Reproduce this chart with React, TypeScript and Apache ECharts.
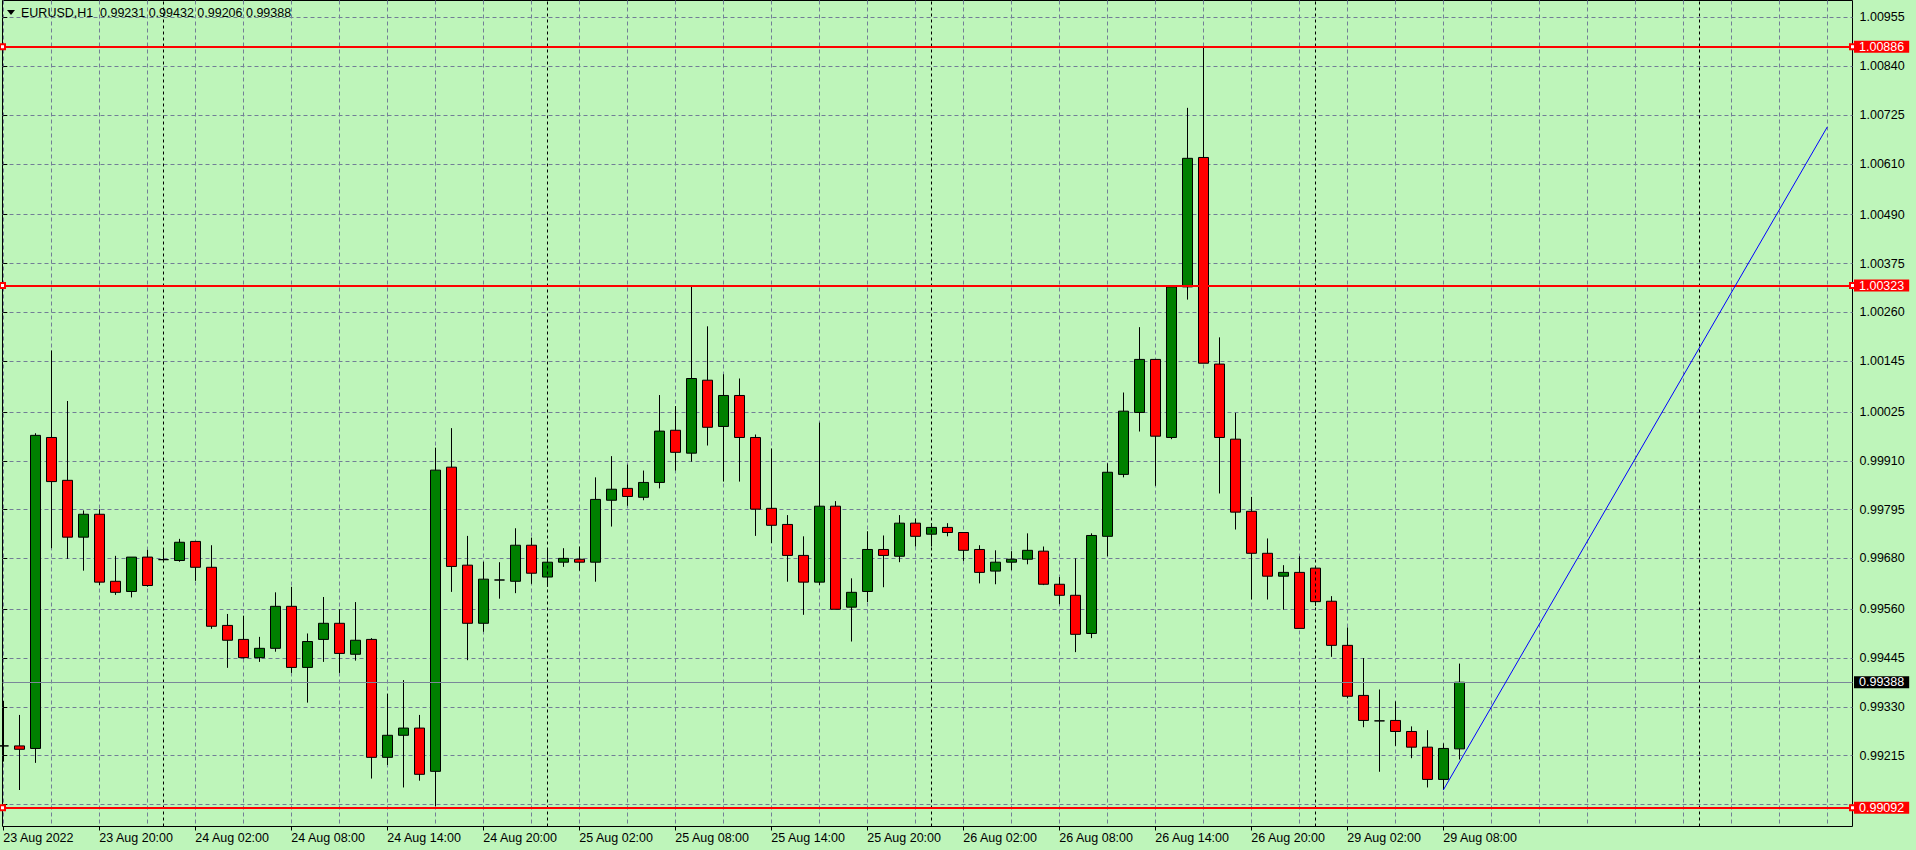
import React, { useEffect, useRef } from "react";
import * as echarts from "echarts";

// ---- data (EURUSD H1, bar index 0 = 23 Aug 2022 14:00) ----
const opens = [
  0.99238, 0.99238, 0.99232, 0.99965, 0.99864, 0.9973, 0.99784, 0.99626, 0.99602, 0.99683,
  0.99677, 0.99675, 0.9972, 0.99659, 0.99522, 0.99489, 0.99446, 0.99468, 0.99567, 0.99423,
  0.99489, 0.99527, 0.99454, 0.99489, 0.99211, 0.99263, 0.9928, 0.99178, 0.99895, 0.99664,
  0.99527, 0.99629, 0.99626, 0.99711, 0.99636, 0.99671, 0.99678, 0.99671, 0.99817, 0.99845,
  0.99824, 0.99859, 0.99982, 0.99928, 1.001, 0.99991, 1.00064, 0.99965, 0.99798, 0.9976,
  0.99687, 0.99624, 0.99803, 0.99565, 0.99602, 0.99701, 0.99685, 0.99763, 0.99737, 0.99753,
  0.99741, 0.99701, 0.9965, 0.99671, 0.99678, 0.99697, 0.99619, 0.99593, 0.99503, 0.99732,
  0.99878, 1.00024, 1.00149, 0.99965, 1.0032, 1.00625, 1.00138, 0.99961, 0.99791, 0.99692,
  0.99638, 0.99647, 0.99657, 0.99579, 0.99475, 0.99357, 0.99297, 0.99298, 0.99272, 0.99235,
  0.99159, 0.99231,
];
const highs = [
  0.99344, 0.99311, 0.99975, 1.0017, 1.00051, 0.99793, 0.99796, 0.99686, 0.99683, 0.997,
  0.99704, 0.99726, 0.9972, 0.99711, 0.99549, 0.99545, 0.99495, 0.996, 0.99613, 0.99503,
  0.99589, 0.9956, 0.99577, 0.99492, 0.99361, 0.99393, 0.99311, 0.99941, 0.99987, 0.99733,
  0.99672, 0.99671, 0.99751, 0.99729, 0.99704, 0.99704, 0.99708, 0.99871, 0.99921, 0.99901,
  0.99887, 1.00065, 1.00039, 1.00323, 1.00227, 1.00114, 1.00104, 0.99972, 0.99939, 0.99782,
  0.99732, 1.0, 0.99815, 0.99633, 0.99744, 0.99734, 0.99782, 0.99774, 0.99763, 0.99763,
  0.99741, 0.99711, 0.99699, 0.99697, 0.99739, 0.99708, 0.99636, 0.9968, 0.99739, 0.99904,
  1.00071, 1.00225, 1.00149, 1.0032, 1.00742, 1.00886, 1.00201, 1.00023, 0.99825, 0.99727,
  0.99664, 0.99685, 0.99657, 0.99591, 0.99517, 0.99445, 0.99371, 0.99343, 0.99284, 0.99275,
  0.99244, 0.99432,
];
const lows = [
  0.99201, 0.99134, 0.99198, 0.99704, 0.99679, 0.99651, 0.99617, 0.99594, 0.99588, 0.99613,
  0.99671, 0.99672, 0.99627, 0.99514, 0.99422, 0.99444, 0.99436, 0.9946, 0.9941, 0.9934,
  0.99436, 0.9941, 0.99439, 0.99161, 0.99193, 0.9914, 0.99156, 0.99096, 0.99601, 0.9944,
  0.99507, 0.99585, 0.99598, 0.9962, 0.99613, 0.9966, 0.99651, 0.99625, 0.99755, 0.99804,
  0.99817, 0.99845, 0.99887, 0.99908, 0.99946, 0.99861, 0.99861, 0.99733, 0.99716, 0.99625,
  0.99547, 0.99617, 0.9956, 0.99484, 0.99577, 0.99612, 0.99671, 0.99708, 0.99708, 0.99732,
  0.99674, 0.99621, 0.99619, 0.99652, 0.99666, 0.99617, 0.99572, 0.99459, 0.99492, 0.99685,
  0.99871, 0.99979, 0.99851, 0.99961, 1.0029, 1.0014, 0.99833, 0.99748, 0.99583, 0.99583,
  0.99559, 0.99515, 0.99568, 0.99448, 0.9935, 0.99282, 0.99177, 0.99238, 0.99209, 0.9914,
  0.99134, 0.99206,
];
const closes = [
  0.99238, 0.9923, 0.9997, 0.99861, 0.9973, 0.99784, 0.99624, 0.996, 0.99683, 0.99616,
  0.99677, 0.99718, 0.99659, 0.9952, 0.99487, 0.99446, 0.99468, 0.99567, 0.99423, 0.99484,
  0.99527, 0.99456, 0.99487, 0.99211, 0.99263, 0.9928, 0.99171, 0.99888, 0.99661, 0.99527,
  0.99631, 0.99629, 0.99711, 0.99645, 0.99671, 0.9968, 0.99671, 0.99819, 0.99843, 0.99826,
  0.99859, 0.9998, 0.9993, 1.00104, 0.99989, 1.00064, 0.99965, 0.99796, 0.99758, 0.99687,
  0.99624, 0.99803, 0.9956, 0.996, 0.99701, 0.99687, 0.99763, 0.99732, 0.99753, 0.99741,
  0.99699, 0.99647, 0.99671, 0.99678, 0.99699, 0.99619, 0.99593, 0.99501, 0.99734, 0.99883,
  1.00027, 1.00149, 0.99968, 1.0032, 1.00623, 1.0014, 0.99965, 0.99789, 0.99692, 0.99638,
  0.99647, 0.99515, 0.99578, 0.99475, 0.99355, 0.99298, 0.99297, 0.99272, 0.99235, 0.99159,
  0.99232, 0.99388,
];

const timeLabels = [
  "23 Aug 2022", "23 Aug 20:00", "24 Aug 02:00", "24 Aug 08:00", "24 Aug 14:00",
  "24 Aug 20:00", "25 Aug 02:00", "25 Aug 08:00", "25 Aug 14:00", "25 Aug 20:00",
  "26 Aug 02:00", "26 Aug 08:00", "26 Aug 14:00", "26 Aug 20:00", "29 Aug 02:00",
  "29 Aug 08:00",
];
const timeLabelBars = [0, 6, 12, 18, 24, 30, 36, 42, 48, 54, 60, 66, 72, 78, 84, 90];
const daySeparatorBars = [10, 34, 58, 82, 106];

const priceTicks = [
  1.00955, 1.0084, 1.00725, 1.0061, 1.0049, 1.00375, 1.0026, 1.00145, 1.00025,
  0.9991, 0.99795, 0.9968, 0.9956, 0.99445, 0.9933, 0.99215, 0.991,
];
const priceLabels = [
  1.00955, 1.0084, 1.00725, 1.0061, 1.0049, 1.00375, 1.0026, 1.00145, 1.00025,
  0.9991, 0.99795, 0.9968, 0.9956, 0.99445, 0.9933, 0.99215,
];
const levelLines = [1.00886, 1.00323, 0.99092];
const trendFrom = [90, 0.99134];
const trendTo = [114, 1.00697];
const symbolTitle = "EURUSD,H1";

// ---- styling ----
const BG = "#BEF5BA";
const GRID = "#727E96";
const FONT = '"Liberation Sans", Arial, sans-serif';
const FS = 12.5;
const X_MIN = -0.05;
const X_MAX = 115.575;
const Y_MIN = 0.99048;
const Y_MAX = 1.00995;

export default function App() {
  const ref = useRef<HTMLDivElement>(null);

  useEffect(() => {
    if (!ref.current) return;
    const chart = echarts.init(ref.current, undefined, { renderer: "svg" });

    const last = closes.length - 1;
    const candles = opens.map((o, i) => [i, o, closes[i], lows[i], highs[i]]);
    const gridBars: number[] = [];
    for (let b = 0; b <= 114; b += 3) gridBars.push(b);
    const labelFor: Record<number, string> = {};
    timeLabelBars.forEach((b, i) => (labelFor[b] = timeLabels[i]));
    const ohlcText = [opens[last], highs[last], lows[last], closes[last]]
      .map((v) => v.toFixed(5))
      .join(" ");

    const priceLabelStyle = (bg: string) => ({
      show: true,
      position: "end",
      distance: 1.5,
      formatter: (p: any) => Number(p.value).toFixed(5),
      backgroundColor: bg,
      color: "#FFFFFF",
      fontSize: FS,
      fontFamily: FONT,
      lineHeight: 12,
      padding: [0, 5, 0, 5],
    });

    const option: any = {
      animation: false,
      backgroundColor: BG,
      textStyle: { fontFamily: FONT },
      grid: {
        left: 2.5,
        top: 0.5,
        right: 1916 - 1852.5,
        bottom: 850 - 826.5,
        show: true,
        backgroundColor: BG,
        borderColor: "#000000",
        borderWidth: 1,
        containLabel: false,
        outerBoundsMode: "none",
      },
      xAxis: [
        {
          type: "value",
          min: X_MIN,
          max: X_MAX,
          position: "bottom",
          axisLine: { show: false },
          axisTick: { show: false, customValues: gridBars },
          axisLabel: { show: false },
          splitLine: {
            show: true,
            lineStyle: { color: GRID, width: 1, type: [4, 3] },
          },
        },
        {
          type: "value",
          min: X_MIN,
          max: X_MAX,
          position: "bottom",
          axisLine: { show: false },
          axisTick: {
            show: true,
            length: 4,
            customValues: timeLabelBars,
            lineStyle: { color: "#000000" },
          },
          axisLabel: {
            show: true,
            customValues: timeLabelBars,
            formatter: (v: number) => labelFor[Math.round(v)] ?? "",
            align: "left",
            margin: 5,
            color: "#000000",
            fontSize: FS,
            fontFamily: FONT,
          },
          splitLine: { show: false },
        },
      ],
      yAxis: [
        {
          type: "value",
          min: Y_MIN,
          max: Y_MAX,
          position: "right",
          axisLine: { show: false },
          axisTick: {
            show: true,
            length: 4,
            customValues: priceTicks,
            lineStyle: { color: "#000000" },
          },
          axisLabel: {
            show: true,
            customValues: priceLabels,
            formatter: (v: number) => v.toFixed(5),
            margin: 7,
            color: "#000000",
            fontSize: FS,
            fontFamily: FONT,
          },
          splitLine: {
            show: true,
            lineStyle: { color: GRID, width: 1, type: [4, 3] },
          },
        },
      ],
      series: [
        {
          type: "line",
          data: [],
          z: 1,
          silent: true,
          markLine: {
            silent: true,
            symbol: ["none", "none"],
            label: { show: false },
            emphasis: { disabled: true },
            lineStyle: { color: "#000000", width: 1, type: [3, 3] },
            data: daySeparatorBars.map((b) => ({ xAxis: b })),
          },
        },
        {
          type: "candlestick",
          data: candles,
          xAxisIndex: 0,
          yAxisIndex: 0,
          barWidth: 10,
          z: 3,
          silent: true,
          itemStyle: {
            color: "#008000",
            color0: "#FF0000",
            borderColor: "#000000",
            borderColor0: "#000000",
            borderColorDoji: "#000000",
            borderWidth: 1,
          },
        },
        {
          type: "line",
          data: [],
          z: 4,
          silent: true,
          markLine: {
            silent: true,
            precision: 5,
            symbol: ["none", "none"],
            emphasis: { disabled: true },
            lineStyle: { color: "#7A8799", width: 1, type: "solid" },
            label: priceLabelStyle("#000000"),
            data: [{ yAxis: closes[last] }],
          },
        },
        {
          type: "line",
          data: [],
          z: 5,
          silent: true,
          markLine: {
            silent: true,
            precision: 5,
            symbol: ["emptyRect", "emptyRect"],
            symbolSize: 5,
            emphasis: { disabled: true },
            lineStyle: { color: "#FF0000", width: 2, type: "solid" },
            label: priceLabelStyle("#FF0000"),
            data: levelLines.map((v) => ({ yAxis: v })),
          },
        },
        {
          type: "line",
          data: [],
          z: 5,
          silent: true,
          markLine: {
            silent: true,
            precision: 5,
            symbol: ["none", "none"],
            label: { show: false },
            emphasis: { disabled: true },
            lineStyle: { color: "#0000FF", width: 1, type: "solid" },
            data: [[{ coord: trendFrom }, { coord: trendTo }]],
          },
        },
      ],
      graphic: [
        {
          type: "polygon",
          shape: { points: [[7, 10], [15, 10], [11, 15]] },
          style: { fill: "#000000" },
          z: 10,
        },
        {
          type: "text",
          x: 21,
          y: 13,
          z: 10,
          style: {
            text: symbolTitle,
            fill: "#000000",
            fontSize: FS,
            fontFamily: FONT,
            verticalAlign: "middle",
          },
        },
        {
          type: "text",
          x: 100,
          y: 13,
          z: 10,
          style: {
            text: ohlcText,
            fill: "#000000",
            fontSize: FS,
            fontFamily: FONT,
            verticalAlign: "middle",
          },
        },
      ],
    };

    chart.setOption(option);
    return () => chart.dispose();
  }, []);

  return (
    <div
      ref={ref}
      style={{ position: "fixed", left: 0, top: 0, width: 1916, height: 850 }}
    />
  );
}
